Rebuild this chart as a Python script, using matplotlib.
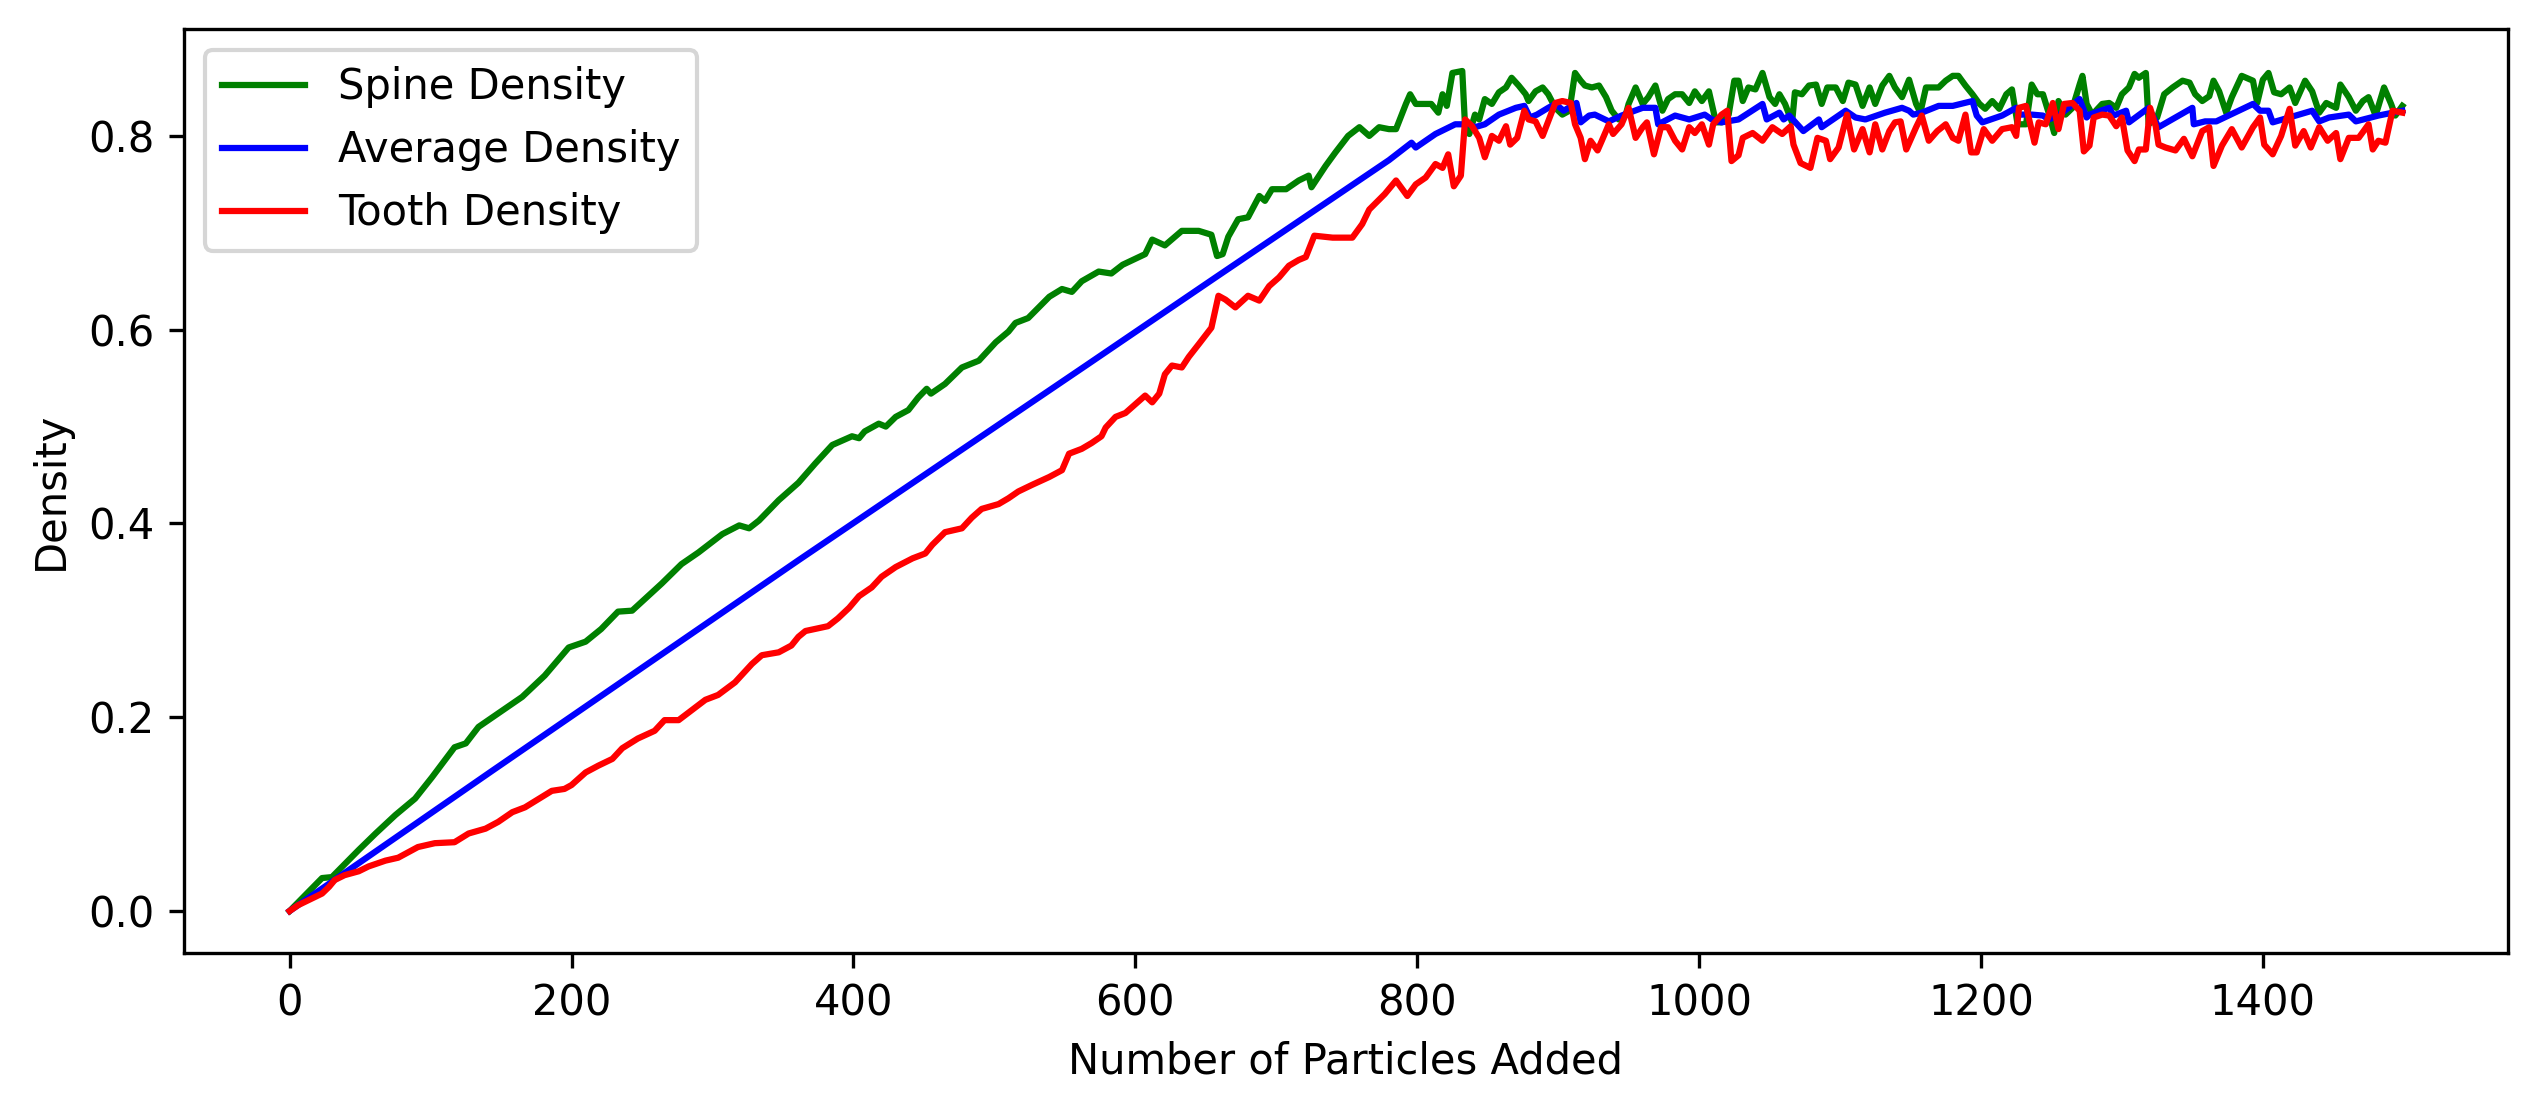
import matplotlib
matplotlib.use("Agg")
import matplotlib.pyplot as plt

# Values (particles added -> density)
spine_n = [0, 23, 30, 49, 61, 75, 89, 101, 117, 125, 134, 148, 165, 181, 198, 210, 221, 233, 243, 264,
           278, 290, 307, 319, 326, 333, 347, 361, 373, 385, 399, 404, 408, 418, 423, 430, 439, 446, 452, 455,
           465, 477, 489, 501, 510, 515, 524, 539, 548, 555, 562, 574, 583, 591, 607, 612, 621, 633, 645, 654,
           658, 662, 666, 673, 680, 688, 692, 697, 707, 716, 723, 725, 735, 742, 751, 759, 766, 773, 780, 785,
           792, 795, 799, 810, 815, 818, 821, 825, 832, 834, 837, 841, 844, 848, 853, 858, 863, 867, 872, 877,
           879, 884, 889, 893, 898, 903, 908, 912, 916, 919, 924, 929, 934, 938, 943, 948, 950, 955, 960, 964,
           969, 974, 978, 983, 988, 993, 997, 1002, 1007, 1012, 1016, 1021, 1025, 1028, 1031, 1035, 1040, 1045, 1050, 1054,
           1057, 1061, 1066, 1068, 1073, 1078, 1083, 1087, 1091, 1097, 1102, 1106, 1111, 1116, 1121, 1125, 1130, 1135, 1139, 1144,
           1149, 1154, 1157, 1161, 1170, 1175, 1180, 1184, 1189, 1194, 1199, 1203, 1208, 1213, 1218, 1222, 1226, 1232, 1236, 1240,
           1244, 1248, 1252, 1255, 1260, 1265, 1270, 1272, 1275, 1279, 1286, 1291, 1296, 1300, 1305, 1309, 1312, 1317, 1319, 1325,
           1330, 1336, 1343, 1348, 1352, 1357, 1362, 1365, 1369, 1374, 1378, 1385, 1393, 1396, 1400, 1404, 1408, 1413, 1419, 1423,
           1430, 1435, 1440, 1445, 1452, 1455, 1461, 1466, 1471, 1475, 1480, 1486, 1491, 1494, 1499]
spine_density = [0.0, 0.034, 0.035, 0.063, 0.080, 0.099, 0.116, 0.138, 0.169, 0.173, 0.190, 0.204, 0.221, 0.243, 0.272, 0.278, 0.291, 0.309, 0.310, 0.338,
                 0.358, 0.370, 0.389, 0.398, 0.395, 0.403, 0.424, 0.442, 0.462, 0.481, 0.490, 0.488, 0.495, 0.503, 0.500, 0.510, 0.517, 0.530, 0.539, 0.534,
                 0.544, 0.561, 0.568, 0.587, 0.598, 0.607, 0.612, 0.634, 0.642, 0.639, 0.650, 0.660, 0.658, 0.667, 0.678, 0.693, 0.687, 0.702, 0.702, 0.698,
                 0.676, 0.678, 0.696, 0.714, 0.716, 0.738, 0.733, 0.745, 0.745, 0.754, 0.759, 0.747, 0.769, 0.783, 0.800, 0.809, 0.800, 0.809, 0.807, 0.807,
                 0.833, 0.843, 0.833, 0.833, 0.824, 0.843, 0.831, 0.865, 0.867, 0.809, 0.802, 0.822, 0.817, 0.838, 0.833, 0.845, 0.850, 0.860, 0.852, 0.843,
                 0.836, 0.846, 0.850, 0.843, 0.829, 0.822, 0.826, 0.865, 0.857, 0.852, 0.850, 0.852, 0.840, 0.826, 0.817, 0.822, 0.833, 0.850, 0.833, 0.840,
                 0.852, 0.826, 0.838, 0.843, 0.843, 0.834, 0.846, 0.836, 0.846, 0.814, 0.814, 0.822, 0.857, 0.857, 0.836, 0.850, 0.848, 0.865, 0.840, 0.833,
                 0.843, 0.833, 0.814, 0.845, 0.843, 0.852, 0.853, 0.833, 0.850, 0.850, 0.836, 0.855, 0.853, 0.831, 0.850, 0.833, 0.852, 0.862, 0.850, 0.840,
                 0.858, 0.833, 0.824, 0.850, 0.850, 0.857, 0.862, 0.862, 0.852, 0.843, 0.833, 0.828, 0.836, 0.828, 0.843, 0.848, 0.812, 0.812, 0.853, 0.843,
                 0.843, 0.824, 0.803, 0.836, 0.822, 0.829, 0.853, 0.862, 0.833, 0.822, 0.833, 0.834, 0.829, 0.843, 0.850, 0.864, 0.860, 0.865, 0.812, 0.819,
                 0.843, 0.850, 0.857, 0.855, 0.843, 0.836, 0.841, 0.857, 0.846, 0.824, 0.840, 0.862, 0.857, 0.834, 0.858, 0.865, 0.845, 0.843, 0.850, 0.834,
                 0.857, 0.846, 0.824, 0.834, 0.829, 0.853, 0.840, 0.826, 0.836, 0.840, 0.821, 0.850, 0.833, 0.821, 0.831]

avg_n = [0, 143, 361, 565, 657, 780, 796, 799, 813, 827, 837, 841, 848, 858, 870, 876, 880, 885, 893, 898,
         904, 913, 916, 922, 926, 936, 945, 960, 969, 971, 983, 993, 1004, 1009, 1016, 1028, 1045, 1048, 1057, 1060,
         1064, 1074, 1085, 1087, 1104, 1111, 1118, 1132, 1144, 1149, 1152, 1158, 1170, 1180, 1194, 1197, 1201, 1215, 1225, 1227,
         1236, 1244, 1248, 1255, 1270, 1275, 1277, 1291, 1294, 1303, 1305, 1319, 1326, 1350, 1351, 1359, 1367, 1393, 1398, 1404,
         1407, 1435, 1440, 1447, 1461, 1466, 1482, 1499]
avg_density = [0.0, 0.144, 0.362, 0.563, 0.654, 0.775, 0.793, 0.788, 0.802, 0.812, 0.812, 0.809, 0.812, 0.822, 0.829, 0.831, 0.819, 0.822, 0.829, 0.833,
               0.826, 0.834, 0.814, 0.821, 0.822, 0.815, 0.821, 0.829, 0.829, 0.812, 0.821, 0.817, 0.822, 0.817, 0.814, 0.817, 0.833, 0.817, 0.824, 0.817,
               0.821, 0.805, 0.817, 0.809, 0.826, 0.819, 0.817, 0.824, 0.829, 0.826, 0.822, 0.824, 0.831, 0.831, 0.836, 0.821, 0.814, 0.821, 0.829, 0.822,
               0.822, 0.821, 0.817, 0.821, 0.838, 0.819, 0.822, 0.829, 0.821, 0.826, 0.814, 0.829, 0.809, 0.829, 0.812, 0.815, 0.815, 0.833, 0.826, 0.826,
               0.814, 0.826, 0.815, 0.819, 0.822, 0.815, 0.821, 0.826]

tooth_n = [0, 6, 16, 23, 28, 32, 39, 49, 56, 68, 77, 91, 103, 117, 127, 139, 148, 158, 167, 177,
           186, 195, 200, 210, 219, 229, 236, 247, 259, 266, 276, 285, 295, 304, 316, 328, 335, 347, 356, 361,
           366, 382, 389, 397, 404, 413, 420, 430, 442, 451, 456, 465, 477, 484, 491, 503, 510, 517, 527, 539,
           548, 553, 562, 569, 576, 579, 586, 593, 600, 607, 612, 617, 621, 626, 633, 638, 645, 654, 659, 664,
           671, 680, 688, 695, 702, 709, 716, 721, 727, 740, 754, 761, 766, 777, 785, 793, 799, 806, 813, 818,
           822, 826, 831, 834, 839, 844, 848, 853, 858, 863, 866, 871, 876, 879, 884, 889, 893, 898, 903, 909,
           912, 916, 919, 923, 928, 931, 936, 939, 945, 950, 955, 960, 963, 968, 973, 978, 983, 988, 993, 997,
           1002, 1007, 1010, 1016, 1020, 1023, 1028, 1031, 1038, 1045, 1052, 1059, 1065, 1067, 1072, 1079, 1084, 1090, 1093, 1099,
           1105, 1110, 1116, 1121, 1125, 1130, 1135, 1139, 1143, 1147, 1154, 1158, 1163, 1169, 1175, 1180, 1184, 1189, 1193, 1197,
           1202, 1208, 1215, 1222, 1225, 1227, 1232, 1238, 1241, 1246, 1251, 1255, 1259, 1265, 1270, 1273, 1277, 1280, 1286, 1291,
           1296, 1300, 1304, 1309, 1312, 1317, 1320, 1324, 1326, 1331, 1338, 1344, 1350, 1357, 1362, 1365, 1371, 1378, 1385, 1393,
           1398, 1401, 1407, 1413, 1419, 1423, 1429, 1434, 1440, 1446, 1452, 1455, 1461, 1468, 1475, 1478, 1482, 1487, 1492, 1499]
tooth_density = [0.0, 0.006, 0.013, 0.018, 0.025, 0.032, 0.037, 0.041, 0.046, 0.052, 0.055, 0.066, 0.070, 0.071, 0.080, 0.085, 0.092, 0.102, 0.107, 0.116,
                 0.124, 0.126, 0.130, 0.143, 0.150, 0.157, 0.168, 0.178, 0.186, 0.197, 0.197, 0.207, 0.218, 0.223, 0.236, 0.255, 0.264, 0.267, 0.274, 0.283,
                 0.289, 0.294, 0.302, 0.313, 0.325, 0.334, 0.345, 0.355, 0.364, 0.369, 0.378, 0.391, 0.395, 0.406, 0.415, 0.420, 0.426, 0.433, 0.440, 0.448,
                 0.455, 0.472, 0.477, 0.483, 0.490, 0.499, 0.510, 0.514, 0.523, 0.532, 0.525, 0.534, 0.554, 0.563, 0.561, 0.572, 0.585, 0.602, 0.635, 0.631,
                 0.623, 0.635, 0.630, 0.645, 0.654, 0.666, 0.672, 0.675, 0.697, 0.695, 0.695, 0.709, 0.724, 0.740, 0.754, 0.738, 0.750, 0.757, 0.771, 0.767,
                 0.781, 0.748, 0.759, 0.817, 0.810, 0.798, 0.778, 0.800, 0.795, 0.810, 0.791, 0.798, 0.826, 0.817, 0.815, 0.800, 0.815, 0.834, 0.836, 0.834,
                 0.812, 0.798, 0.776, 0.795, 0.785, 0.795, 0.812, 0.802, 0.812, 0.829, 0.798, 0.809, 0.814, 0.781, 0.809, 0.809, 0.795, 0.786, 0.809, 0.803,
                 0.812, 0.791, 0.812, 0.822, 0.826, 0.774, 0.780, 0.798, 0.803, 0.795, 0.809, 0.802, 0.810, 0.791, 0.772, 0.767, 0.798, 0.795, 0.776, 0.788,
                 0.822, 0.786, 0.807, 0.783, 0.812, 0.786, 0.805, 0.814, 0.815, 0.786, 0.809, 0.821, 0.795, 0.805, 0.812, 0.798, 0.795, 0.822, 0.783, 0.783,
                 0.807, 0.795, 0.807, 0.809, 0.800, 0.829, 0.831, 0.793, 0.814, 0.812, 0.834, 0.807, 0.833, 0.834, 0.826, 0.784, 0.790, 0.819, 0.822, 0.821,
                 0.810, 0.819, 0.785, 0.774, 0.786, 0.786, 0.829, 0.810, 0.791, 0.788, 0.785, 0.797, 0.779, 0.805, 0.809, 0.769, 0.790, 0.807, 0.788, 0.809,
                 0.819, 0.791, 0.781, 0.800, 0.828, 0.790, 0.805, 0.788, 0.809, 0.795, 0.803, 0.776, 0.798, 0.798, 0.812, 0.786, 0.795, 0.793, 0.826, 0.824]

fig = plt.figure(figsize=(2539 / 300, 1113 / 300), dpi=300)
ax = fig.add_subplot(111)
fig.subplots_adjust(left=184 / 2539, right=2508 / 2539, bottom=1 - 953 / 1113, top=1 - 29 / 1113)

ax.plot(spine_n, spine_density, color='g', label='Spine Density')
ax.plot(avg_n, avg_density, color='b', label='Average Density')
ax.plot(tooth_n, tooth_density, color='r', label='Tooth Density')

ax.set_xlabel('Number of Particles Added')
ax.set_ylabel('Density')
ax.legend(loc='upper left')

fig.savefig('out.png', dpi=300)
